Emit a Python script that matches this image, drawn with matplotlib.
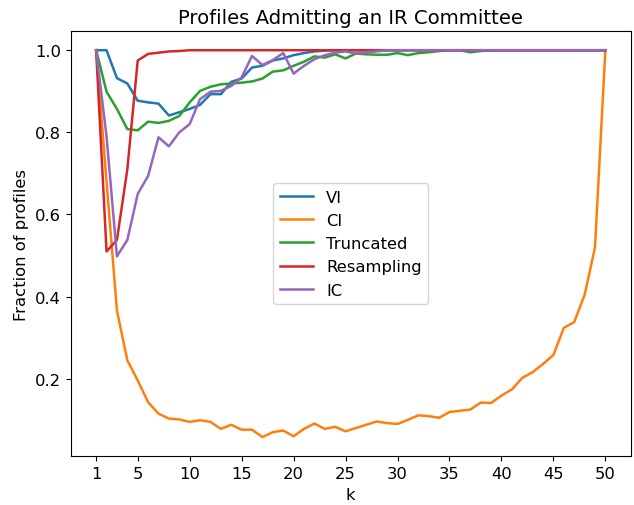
import numpy as np
import matplotlib
matplotlib.use("Agg")
import matplotlib.pyplot as plt

k = list(range(1, 51))

vi = [1.0, 1.0, 0.932, 0.919, 0.877, 0.873, 0.870, 0.841, 0.849, 0.857,
      0.867, 0.893, 0.893, 0.923, 0.931, 0.958, 0.962, 0.975, 0.980, 0.988,
      0.993, 0.997, 0.999] + [1.0] * 27

ci = [1.0, 0.68, 0.366, 0.245, 0.196, 0.143, 0.115, 0.103, 0.101, 0.095,
      0.099, 0.095, 0.078, 0.088, 0.076, 0.076, 0.058, 0.070, 0.074, 0.060,
      0.078, 0.091, 0.078, 0.083, 0.072, 0.080, 0.088, 0.096, 0.092, 0.090,
      0.100, 0.111, 0.109, 0.105, 0.119, 0.122, 0.125, 0.142, 0.141, 0.159,
      0.174, 0.202, 0.216, 0.236, 0.258, 0.324, 0.338, 0.404, 0.520, 1.0]

truncated = [1.0, 0.899, 0.857, 0.808, 0.805, 0.826, 0.823, 0.828, 0.840, 0.873,
             0.901, 0.911, 0.917, 0.919, 0.921, 0.924, 0.931, 0.948, 0.951, 0.962,
             0.972, 0.985, 0.982, 0.990, 0.980, 0.992, 0.990, 0.989, 0.989, 0.993,
             0.988, 0.993, 0.995, 0.998, 1.0, 1.0, 0.995, 0.998] + [1.0] * 12

resampling = [1.0, 0.51, 0.538, 0.71, 0.975, 0.991, 0.994, 0.997, 0.998, 1.0] + [1.0] * 40

ic = [1.0, 0.79, 0.498, 0.538, 0.65, 0.694, 0.788, 0.766, 0.80, 0.82,
      0.881, 0.899, 0.901, 0.913, 0.934, 0.986, 0.964, 0.976, 0.993, 0.943,
      0.962, 0.978, 0.988, 0.994, 0.997, 0.992, 0.995, 0.997] + [1.0] * 22

series = [("VI", vi), ("CI", ci), ("Truncated", truncated),
          ("Resampling", resampling), ("IC", ic)]

plt.rcParams['font.size'] = 11.8

fig, ax = plt.subplots(figsize=(6.34, 5.06), dpi=100)

for name, vals in series:
    ax.plot(k, vals, label=name, linewidth=1.8)

ax.set_xticks([1] + list(range(5, 51, 5)))
ax.set_xlabel("k")
ax.set_ylabel("Fraction of profiles")
ax.set_title("Profiles Admitting an IR Committee")
ax.legend(loc="center")

fig.subplots_adjust(left=0.1115, right=0.995, top=0.937, bottom=0.096)
fig.savefig("out.png")
